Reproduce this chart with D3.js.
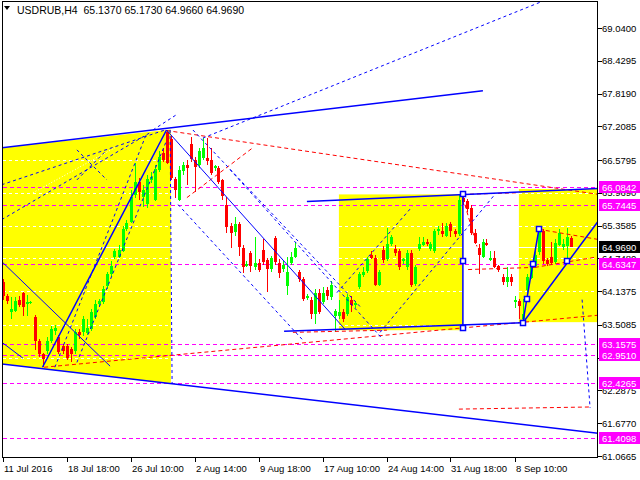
<!DOCTYPE html>
<html><head><meta charset="utf-8">
<script src="https://cdn.jsdelivr.net/npm/d3@7/dist/d3.min.js"></script>
<style>
body{margin:0;background:#fff}
svg{display:block}
text{font-family:"Liberation Sans",Arial,sans-serif}
</style>
</head><body>
<svg id="chart" width="640" height="480"></svg>
<script>
const symbol = "USDRUB,H4";
const lastQuote = [65.1370, 65.1730, 64.9660, 64.9690];

const opens = [64.30,64.04,63.74,63.78,63.98,64.10,63.89,63.91,63.65,63.20,62.96,63.02,63.20,63.39,63.28,63.11,63.11,63.06,63.02,63.37,
63.37,63.37,63.43,63.65,63.89,63.93,64.23,64.45,64.77,64.78,64.88,65.29,65.43,65.94,66.18,65.90,65.75,66.22,65.84,66.40,
66.72,67.10,66.98,66.23,65.84,66.38,66.49,66.87,66.59,66.49,66.62,66.62,66.59,66.42,66.44,66.20,65.75,65.36,65.23,65.38,
64.95,64.62,64.84,64.60,64.67,64.91,64.71,64.54,65.12,64.67,64.54,64.23,64.67,64.78,64.49,64.36,64.00,63.98,63.71,64.11,
63.95,64.15,64.04,63.67,63.67,63.74,63.71,63.98,63.87,64.21,64.45,64.50,64.82,64.76,64.26,64.91,64.73,65.01,64.93,64.88,
64.69,64.58,64.84,64.26,64.91,65.01,65.06,64.91,64.88,65.25,65.25,65.17,65.38,65.25,65.21,65.88,65.81,65.69,65.23,64.95,
64.78,65.04,64.73,64.76,64.60,64.41,64.32,64.41,63.93,63.95,63.61,64.17,64.39,64.62,64.86,65.25,64.71,64.78,64.69,65.01,
64.95,64.97,65.137];
const highs = [64.36,64.08,64.02,64.02,64.04,64.13,64.06,63.95,63.69,63.24,62.99,63.28,63.48,63.50,63.32,63.15,63.15,63.09,63.43,63.43,
63.67,63.61,63.80,63.98,64.00,64.23,64.50,64.69,64.93,64.99,65.36,65.47,66.03,66.53,66.25,66.12,66.31,66.36,66.49,66.74,
66.81,67.14,67.02,66.27,66.46,66.55,66.59,67.01,66.64,66.81,66.99,66.99,66.81,66.49,66.47,66.23,65.90,65.40,65.51,65.43,
64.99,64.69,64.88,65.14,64.73,65.10,64.76,64.80,65.17,64.73,64.69,64.78,64.86,65.06,64.54,64.41,64.08,64.02,64.17,64.17,
64.21,64.21,64.32,63.80,63.98,63.80,64.08,64.04,63.95,64.50,64.58,64.78,64.88,64.82,64.54,64.97,65.32,65.19,64.99,64.93,
64.76,64.91,64.90,64.63,65.15,65.14,65.10,65.06,65.30,65.36,65.41,65.41,65.43,65.30,65.94,65.94,65.86,65.75,65.29,65.01,
65.10,65.10,64.88,64.88,64.63,64.45,64.58,64.45,64.04,64.00,64.00,64.45,64.69,64.88,65.32,65.30,64.76,65.06,65.10,65.29,
65.10,65.32,65.173];
const lows = [63.98,63.89,63.61,63.74,63.85,63.67,63.67,63.89,63.05,62.92,62.72,62.96,63.17,63.33,62.96,62.96,62.85,62.81,62.96,63.24,
63.31,63.33,63.39,63.61,63.85,63.89,64.17,64.41,64.73,64.75,64.86,65.25,65.40,65.88,65.84,65.71,65.69,66.16,65.81,66.36,
66.55,66.50,66.20,65.88,65.81,66.31,66.12,66.55,65.99,66.44,66.59,66.49,66.31,66.38,66.14,65.84,65.23,64.95,65.17,64.80,
64.47,64.58,64.50,64.54,64.50,64.63,64.13,64.50,64.63,64.39,64.50,64.06,64.63,64.75,64.30,63.95,63.97,63.61,63.52,63.71,
63.89,63.98,63.98,63.37,63.61,63.56,63.67,63.74,63.83,64.17,64.41,64.47,64.73,64.23,64.23,64.67,64.69,64.97,64.80,64.54,
64.65,64.54,64.21,64.23,64.88,64.97,64.97,64.88,64.84,65.19,65.14,65.14,65.14,65.15,65.17,65.75,65.62,65.19,65.01,64.45,
64.75,64.97,64.69,64.56,64.49,64.26,64.21,64.24,63.83,63.61,63.52,64.02,64.36,64.58,64.82,64.65,64.60,64.63,64.65,64.97,
64.91,64.76,64.966];
const closes = [64.04,63.95,63.80,63.96,63.89,63.83,63.93,63.93,63.20,62.96,62.87,63.20,63.43,63.45,63.00,63.02,62.89,62.96,63.37,63.31,
63.61,63.46,63.74,63.89,63.95,64.17,64.45,64.60,64.88,64.91,65.29,65.40,65.90,66.18,65.99,66.03,66.22,66.27,66.42,66.64,
66.59,66.53,66.25,66.03,66.40,66.49,66.44,66.59,66.46,66.75,66.81,66.57,66.35,66.46,66.18,65.90,65.34,65.23,65.38,64.95,
64.60,64.65,64.60,64.67,64.54,64.69,64.54,64.75,64.67,64.49,64.62,64.50,64.78,64.95,64.36,63.98,64.04,63.71,64.11,63.76,
64.11,64.04,64.26,63.76,63.74,63.61,64.02,63.89,63.91,64.45,64.50,64.73,64.76,64.26,64.50,64.73,65.01,65.14,64.86,64.58,
64.73,64.84,64.24,64.58,65.01,65.06,65.03,65.01,65.25,65.29,65.19,65.36,65.25,65.19,65.84,65.81,65.66,65.23,65.04,64.82,
65.06,65.01,64.76,64.60,64.52,64.32,64.41,64.32,63.97,63.85,63.71,64.41,64.63,64.82,65.25,64.69,64.63,64.67,65.04,65.23,
65.01,65.14,64.969];

const timeTickBars = [0,16,32,48,64,80,96,112,128];
const timeTickLabels = ["11 Jul 2016","18 Jul 18:00","26 Jul 10:00","2 Aug 14:00","9 Aug 18:00","17 Aug 10:00","24 Aug 14:00","31 Aug 18:00","8 Sep 10:00"];
const priceTicks = [69.0400,68.4295,67.8190,67.2085,66.5795,65.9690,65.3585,64.7480,64.1375,63.5085,62.8980,62.2875,61.6770,61.0665];
const levelPrices = [66.0842,65.7445,64.6347,63.1575,62.9510,62.4265,61.4098];
const bidPrice = 64.9690;

// analysis objects, as [bar index, price] points
const yellowPolygons = [
  [[-0.2,66.81],[42.1,67.15],[42.1,62.41],[-0.2,62.78]]
];
const yellowRects = [
  [[84.1,65.94],[115.1,63.41]],
  [[129.1,66.04],[150,63.56]]
];
const blueSolidThick = [
  [[-0.2,66.81],[120.1,67.87]],
  [[-0.2,62.78],[149,61.49]],
  [[10,62.72],[41,67.14]],
  [[76.1,65.81],[149,66.05]],
  [[70.4,63.39],[130.1,63.55]],
  [[115.1,65.94],[115.1,63.46]],
  [[130.1,63.55],[149,65.45]],
  [[130.1,63.55],[131.1,64.00],[132.6,64.65],[134.1,65.29]]
];
const blueSolidThin = [
  [[41,67.14],[85.6,63.43]],
  [[-0.2,64.69],[26.9,62.74]],
  [[0.1,63.17],[5.1,62.89]]
];
const handleSquares = [[115.1,65.94],[115.1,64.69],[115.1,63.46],[130.1,63.55],[131.1,64.00],[132.6,64.65],[134.1,65.29],[141.1,64.69]];
const blueDashed = [
  [[50.1,66.99],[134.4,69.52]],
  [[-0.2,66.12],[40.6,67.14]],
  [[-0.2,65.47],[36.9,67.09]],
  [[13.1,62.72],[36.1,67.09]],
  [[18.6,62.81],[41.1,66.96]],
  [[47.6,67.14],[89.4,63.85]],
  [[56.9,66.40],[95.1,63.24]],
  [[43.9,65.75],[74.9,63.24]],
  [[83.6,64.11],[102.4,65.71]],
  [[94.4,63.37],[123.1,65.94]],
  [[41.9,67.14],[42.4,62.41]],
  [[144.9,63.98],[146.9,61.96]],
  [[18.6,66.77],[26.1,66.21]],
  [[18.6,66.21],[26.1,66.77]],
  [[37.6,67.14],[43.4,67.42]]
];
const redDashed = [
  [[41,67.13],[149,65.94]],
  [[46.1,65.88],[62.6,66.81]],
  [[10.4,62.72],[149,63.69]],
  [[114.1,61.94],[147.1,61.98]],
  [[116.4,64.54],[133.1,64.58]],
  [[133.1,64.58],[149,64.78]],
  [[134.1,65.29],[149,65.10]],
  [[115.6,65.75],[118.6,64.97]],
  [[115.1,65.94],[128.6,65.97]],
  [[72.6,63.37],[96.1,63.41]]
];
const whiteDotted = [
  [[7.6,65.97],[28.1,66.81]]
];

const L = 2.5, R = 597.5, T = 1.5, B = 457.5;
const svg = d3.select("#chart");
const x = d3.scaleLinear().domain([0, 142]).range([2.5, 570.5]);
const y = d3.scaleLinear().domain([61.0665, 69.04]).range([456, 28]);
const line = d3.line().x(d => x(d[0])).y(d => y(d[1]));

svg.append("rect").attr("width", 640).attr("height", 480).attr("fill", "#fff");
svg.append("clipPath").attr("id", "plot").append("rect")
  .attr("x", L).attr("y", T).attr("width", R - L).attr("height", B - T);
const g = svg.append("g").attr("clip-path", "url(#plot)");

// yellow zones
g.selectAll(".yp").data(yellowPolygons).join("path")
  .attr("d", d => line(d) + "Z").attr("fill", "#ffff00");
g.selectAll(".yr").data(yellowRects).join("rect")
  .attr("x", d => x(d[0][0])).attr("y", d => y(d[0][1]))
  .attr("width", d => x(d[1][0]) - x(d[0][0])).attr("height", d => y(d[1][1]) - y(d[0][1]))
  .attr("fill", "#ffff00");

// grid (white dashed) and bid line
const hg = g.append("g").attr("shape-rendering", "crispEdges");
hg.selectAll(".grid").data(priceTicks).join("line")
  .attr("x1", L).attr("x2", R)
  .attr("y1", d => Math.round(y(d)) + 0.5).attr("y2", d => Math.round(y(d)) + 0.5)
  .attr("stroke", "#fff").attr("stroke-dasharray", "3,3");
hg.append("line").attr("x1", L).attr("x2", R)
  .attr("y1", Math.round(y(bidPrice)) + 0.5).attr("y2", Math.round(y(bidPrice)) + 0.5)
  .attr("stroke", "#fff").attr("stroke-width", 1);

// magenta levels
hg.selectAll(".lvl").data(levelPrices).join("line")
  .attr("x1", L).attr("x2", R)
  .attr("y1", d => Math.round(y(d)) + 0.5).attr("y2", d => Math.round(y(d)) + 0.5)
  .attr("stroke", "#ff00ff").attr("stroke-width", 1).attr("stroke-dasharray", "4,3");

// candles
const idx = d3.range(opens.length);
const col = i => closes[i] >= opens[i] ? "#00ff00" : "#ff0000";
const cg = g.append("g").attr("shape-rendering", "crispEdges");
cg.selectAll(".wick").data(idx).join("line")
  .attr("x1", i => Math.round(x(i)) + 0.5).attr("x2", i => Math.round(x(i)) + 0.5)
  .attr("y1", i => y(highs[i])).attr("y2", i => y(lows[i]))
  .attr("stroke", col);
cg.selectAll(".body").data(idx).join("rect")
  .attr("x", i => Math.round(x(i)) - 1)
  .attr("y", i => Math.round(y(Math.max(opens[i], closes[i]))))
  .attr("width", 3)
  .attr("height", i => Math.max(1, Math.round(Math.abs(y(opens[i]) - y(closes[i])))))
  .attr("fill", col);

// analysis lines
const drawSet = (data, color, width, dash) => {
  g.append("g").selectAll("path").data(data).join("path")
    .attr("d", line).attr("fill", "none").attr("stroke", color)
    .attr("stroke-width", width).attr("stroke-dasharray", dash);
};
drawSet(whiteDotted, "#ffffff", 1, "1,2");
drawSet(redDashed, "#ff0000", 1, "4,3");
drawSet(blueDashed, "#0000ff", 1, "3,3");
drawSet(blueSolidThin, "#0000ff", 1, null);
drawSet(blueSolidThick, "#0000ff", 1.5, null);
g.selectAll(".sq").data(handleSquares).join("rect")
  .attr("x", d => Math.round(x(d[0])) - 2.5).attr("y", d => Math.round(y(d[1])) - 2.5)
  .attr("width", 5).attr("height", 5)
  .attr("fill", "#fff").attr("stroke", "#0000ff").attr("stroke-width", 1.5);

// frame
svg.append("rect").attr("x", L).attr("y", T).attr("width", R - L).attr("height", B - T)
  .attr("fill", "none").attr("stroke", "#000").attr("shape-rendering", "crispEdges");

// right price axis
const ax = svg.append("g").attr("shape-rendering", "crispEdges");
ax.selectAll(".tk").data(priceTicks).join("line")
  .attr("x1", R).attr("x2", R + 4)
  .attr("y1", d => Math.round(y(d)) + 0.5).attr("y2", d => Math.round(y(d)) + 0.5)
  .attr("stroke", "#000");
svg.selectAll(".tl").data(priceTicks).join("text")
  .attr("x", 602).attr("y", d => y(d) + 3.5)
  .attr("font-size", "9.5px").attr("fill", "#000")
  .text(d => d.toFixed(4));

const boxes = levelPrices.map(p => ({p, bg: "#ff00ff"})).concat([{p: bidPrice, bg: "#000000"}]);
const bx = svg.append("g");
bx.selectAll("rect").data(boxes).join("rect")
  .attr("x", 599).attr("y", d => Math.round(y(d.p)) - 6)
  .attr("width", 41).attr("height", 12).attr("fill", d => d.bg);
bx.selectAll("text").data(boxes).join("text")
  .attr("x", 602).attr("y", d => Math.round(y(d.p)) + 4)
  .attr("font-size", "9.5px").attr("fill", "#fff")
  .text(d => d.p.toFixed(4));

// bottom time axis
ax.selectAll(".tt").data(timeTickBars).join("line")
  .attr("x1", d => Math.round(x(d)) + 0.5).attr("x2", d => Math.round(x(d)) + 0.5)
  .attr("y1", B).attr("y2", B + 4).attr("stroke", "#000");
svg.selectAll(".tx").data(timeTickBars).join("text")
  .attr("x", d => Math.round(x(d)) + 1).attr("y", 472)
  .attr("font-size", "9.5px").attr("fill", "#000")
  .text((d, i) => timeTickLabels[i]);

// header
svg.append("path").attr("d", "M4,6 L10,6 L7,10 Z").attr("fill", "#000");
svg.append("text").attr("x", 17).attr("y", 14).attr("font-size", "10.5px").attr("fill", "#000")
  .attr("xml:space", "preserve")
  .text(symbol + "  " + lastQuote.map(v => v.toFixed(4)).join(" "));
</script>
</body></html>
